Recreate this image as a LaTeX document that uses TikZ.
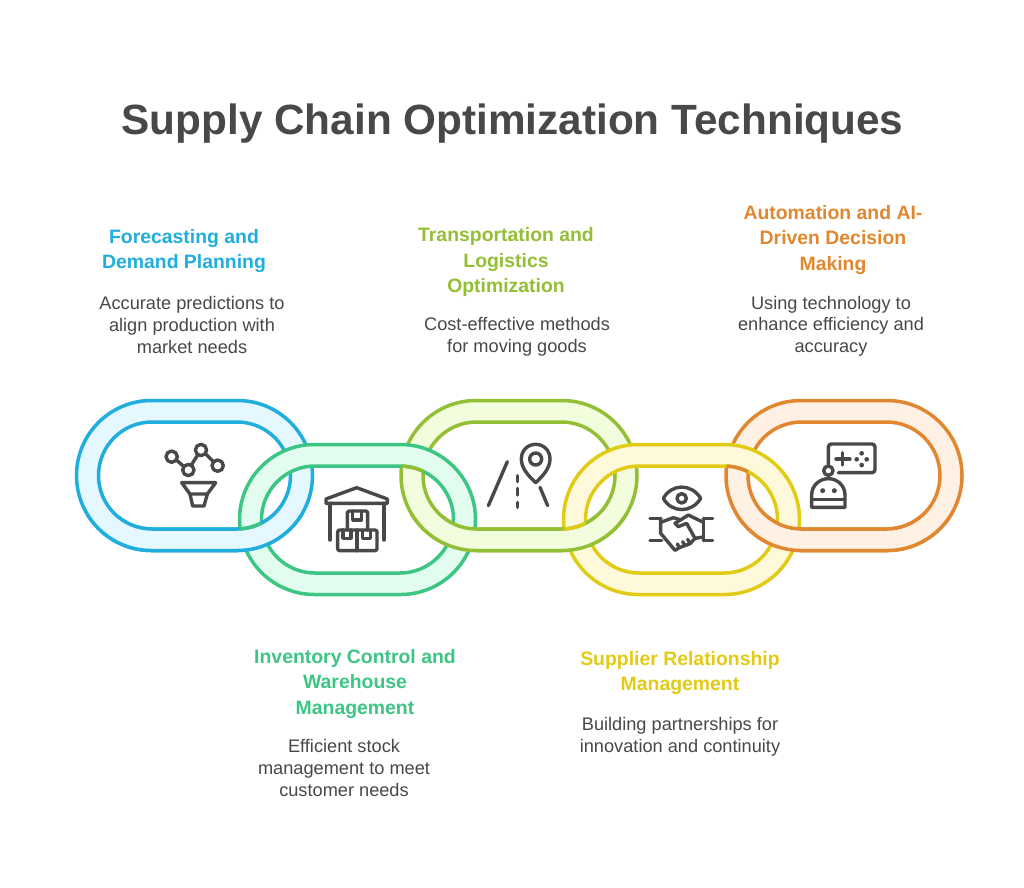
\documentclass[tikz,border=0pt]{standalone}
\usepackage{fontspec}
\setmainfont{Liberation Sans}
\definecolor{ink}{HTML}{484848}
\definecolor{cblue}{HTML}{1FAEDD}\definecolor{fblue}{HTML}{E5F8FF}
\definecolor{cgreen}{HTML}{3CC583}\definecolor{fgreen}{HTML}{E2FDEF}
\definecolor{clime}{HTML}{93BF35}\definecolor{flime}{HTML}{F1FDDD}
\definecolor{cyel}{HTML}{E1CB15}\definecolor{fyel}{HTML}{FFF9DB}
\definecolor{corg}{HTML}{E0872F}\definecolor{forg}{HTML}{FFF0E4}
\newcommand\outerring[2]{[rounded corners=75pt] ({#1-118},{#2-75}) rectangle ({#1+118},{#2+75})}
\newcommand\innerring[2]{[rounded corners=53.5pt] ({#1-96},{#2-53.5}) rectangle ({#1+96},{#2+53.5})}
\newcommand\linkring[4]{\draw[linkline,draw=#3,fill=#4,even odd rule] \outerring{#1}{#2} \innerring{#1}{#2};}
% recolour: inner edge of link (#1,#2) inside the band of link (#3,#4), in colour #5, y range #6..#7
\newcommand\recolor[7]{\begin{scope}[even odd rule]
  \clip (0,#6) rectangle (1024,#7);
  \tikzset{rounded corners=75pt}
  \clip ({#3-118},{#4-75}) rectangle ({#3+118},{#4+75});
  \tikzset{rounded corners=53.5pt}
  \clip (-100,-100) rectangle (1200,1000) ({#3-96},{#4-53.5}) rectangle ({#3+96},{#4+53.5});
  \draw[linkline,draw=#5] ({#1-96},{#2-53.5}) rectangle ({#1+96},{#2+53.5});
\end{scope}}
\tikzset{
  linkline/.style={line width=3.5pt},
  title/.style={font=\fontsize{42.3}{50}\selectfont\bfseries,text=ink,anchor=center,inner sep=0},
  head/.style={font=\fontsize{19.4}{25.3}\selectfont\bfseries,align=center,anchor=center,inner sep=0},
  body/.style={font=\fontsize{18.2}{21.6}\selectfont,text=ink,align=center,anchor=center,inner sep=0},
  icon/.style={draw=ink,line width=3.4pt,line cap=round,line join=round},
  iconb/.style={x=.33333pt,y=-.33333pt},
}
\begin{document}
\begin{tikzpicture}[x=1pt,y=-1pt]
\useasboundingbox (0,0) rectangle (1024,887);
\fill[white] (0,0) rectangle (1024,887);
\node[title] (t) at (512.5,123.5) {Supply Chain Optimization Techniques};
% links
\linkring{194.5}{475.5}{cblue}{fblue}
\linkring{519}{475.5}{clime}{flime}
\linkring{844}{475.5}{corg}{forg}
\linkring{357.5}{519.5}{cgreen}{fgreen}
\linkring{681.5}{519.5}{cyel}{fyel}
\begin{scope}
  \clip (0,515) rectangle (1024,560);
  \linkring{194.5}{475.5}{cblue}{fblue}
  \linkring{519}{475.5}{clime}{flime}
  \linkring{844}{475.5}{corg}{forg}
\end{scope}
\recolor{194.5}{475.5}{357.5}{519.5}{cgreen}{515}{560}
\recolor{519}{475.5}{681.5}{519.5}{cyel}{515}{560}
\recolor{357.5}{519.5}{519}{475.5}{clime}{440}{480}
\recolor{681.5}{519.5}{844}{475.5}{corg}{440}{480}
% labels
\node[head,text=cblue] (h1) at (184,251) {Forecasting and\\Demand Planning};
\node[body] (b1) at (192,325) {Accurate predictions to\\align production with\\market needs};
\node[head,text=clime] (h3) at (506,262) {Transportation and\\Logistics\\Optimization};
\node[body] (b3) at (517,337) {Cost-effective methods\\for moving goods};
\node[head,text=corg] (h5) at (833,240) {Automation and AI-\\Driven Decision\\Making};
\node[body] (b5) at (831,326) {Using technology to\\enhance efficiency and\\accuracy};
\node[head,text=cgreen] (h2) at (355,684) {Inventory Control and\\Warehouse\\Management};
\node[body] (b2) at (344,768) {Efficient stock\\management to meet\\customer needs};
\node[head,text=cyel] (h4) at (680,673) {Supplier Relationship\\Management};
\node[body] (b4) at (680,737) {Building partnerships for\\innovation and continuity};
% icon 1: funnel and graph
\begin{scope}[xshift=150pt,yshift=-430pt,iconb]
  \draw[icon] (65,80) circle[radius=17] (115,120) circle[radius=17] (153,60) circle[radius=17] (203,107) circle[radius=17];
  \draw[icon] (79,90)--(101,109) (124,105)--(143,75) (167,72)--(190,95);
  \draw[icon] (95,158)--(197,158)--(172,192)--(120,192)--cycle;
  \draw[icon] (120,192)--(128,228)--(162,228)--(172,192);
\end{scope}
% icon 2: warehouse
\begin{scope}[xshift=315pt,yshift=-475pt,iconb]
  \draw[icon] (33,85)--(33,72)--(125,38)--(217,72)--(217,85)--cycle;
  \draw[icon] (45,85)--(45,195) (207,85)--(207,195);
  \draw[icon,rounded corners=2pt] (97,165)--(97,108)--(158,108)--(158,165);
  \draw[icon] (113,108)--(113,135)--(140,135)--(140,108);
  \draw[icon,rounded corners=2pt] (68,165) rectangle (186,227);
  \draw[icon] (126,165)--(126,227);
  \draw[icon] (84,165)--(84,190)--(108,190)--(108,165);
  \draw[icon] (142,165)--(142,190)--(166,190)--(166,165);
\end{scope}
% icon 3: road and pin
\begin{scope}[xshift=475pt,yshift=-435pt,iconb]
  \draw[icon] (182,72) circle[radius=18];
  \draw[icon] (182,143) .. controls (160,122) and (139,100) .. (139,72) .. controls (139,46) and (158,28) .. (182,28) .. controls (206,28) and (225,46) .. (225,72) .. controls (225,100) and (204,122) .. (182,143);
  \draw[icon] (97,80)--(40,212) (195,157)--(218,212);
  \draw[icon] (128,122)--(128,140) (128,160)--(128,180) (128,202)--(128,217);
\end{scope}
% icon 4: eye and handshake
\begin{scope}[xshift=640pt,yshift=-475pt,iconb]
  \draw[icon] (70,70) .. controls (95,25) and (155,25) .. (182,70) .. controls (155,115) and (95,115) .. (70,70);
  \draw[icon] (125,70) circle[radius=14];
  \draw[icon] (30,130)--(62,130) (30,197)--(65,197) (190,130)--(218,130) (190,197)--(218,197) (190,130)--(190,197);
  \draw[icon] (62,130)--(62,175)--(105,226)--(118,218)--(150,206)--(165,190)--(190,186);
  \draw[icon] (62,142)--(100,128)--(120,134);
  \draw[icon] (190,142)--(145,120)--(105,145)--(115,155)--(140,145)--(165,190);
  \draw[icon] (118,218)--(112,207) (135,212)--(128,200) (150,206)--(143,193);
\end{scope}
% icon 5: robot and game pad
\begin{scope}[xshift=800pt,yshift=-430pt,iconb]
  \draw[icon,rounded corners=3pt] (85,103)--(85,42)--(225,42)--(225,128)--(115,128);
  \draw[icon] (128,68)--(128,105) (108,87)--(150,87);
  \fill[ink] (185,70) circle[radius=7] (170,88) circle[radius=7] (200,88) circle[radius=7] (185,105) circle[radius=7];
  \draw[icon] (85,122) circle[radius=14];
  \draw[icon] (85,136)--(85,146);
  \draw[icon] (35,232)--(35,195) .. controls (35,165) and (60,146) .. (85,146) .. controls (110,146) and (135,165) .. (135,195) -- (135,232)--cycle;
  \draw[icon] (35,208)--(135,208);
  \fill[ink] (68,182) circle[radius=7.5] (103,182) circle[radius=7.5];
\end{scope}
\end{tikzpicture}
\end{document}
